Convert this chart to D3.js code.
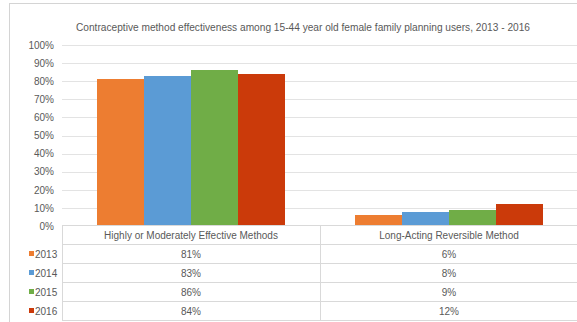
<!DOCTYPE html>
<html>
<head>
<meta charset="utf-8">
<script src="https://cdn.jsdelivr.net/npm/d3@7"></script>
<style>
  html, body { margin: 0; padding: 0; background: #fff; }
  svg { display: block; font-family: "Liberation Sans", Arial, sans-serif; }
</style>
</head>
<body>
<svg id="chart" width="577" height="322"></svg>
<script>
// Data
const title = "Contraceptive method effectiveness among 15-44 year old female family planning users, 2013 - 2016";
const categories = ["Highly or Moderately Effective Methods", "Long-Acting Reversible Method"];
const years = ["2013", "2014", "2015", "2016"];
const colors = ["#ED7D31", "#5B9BD5", "#70AD47", "#CB3A0A"];
const values2013 = [81, 6];
const values2014 = [83, 8];
const values2015 = [86, 9];
const values2016 = [84, 12];
const yTicks = [0, 10, 20, 30, 40, 50, 60, 70, 80, 90, 100];

const series = [values2013, values2014, values2015, values2016];

const svg = d3.select("#chart");
const textColor = "#595959";
const gridColor = "#E3E3E3";
const lineColor = "#D9D9D9";

// Outer chart frame
svg.append("rect")
  .attr("x", 9.5).attr("y", 3.5)
  .attr("width", 600).attr("height", 340)
  .attr("fill", "#fff").attr("stroke", "#D4D4D4");

// Title
svg.append("text")
  .attr("x", 303).attr("y", 31)
  .attr("text-anchor", "middle")
  .attr("font-size", 11)
  .attr("fill", textColor)
  .attr("textLength", 454)
  .attr("lengthAdjust", "spacingAndGlyphs")
  .text(title);

// Scales
const plotLeft = 62, plotRight = 578;
const y = d3.scaleLinear().domain([0, 100]).range([226, 45]);
const x0 = d3.scaleBand().domain(categories).range([plotLeft, plotRight]).padding(0);
const groupWidth = x0.bandwidth() * 0.725;
const x1 = d3.scaleBand().domain(years)
  .range([(x0.bandwidth() - groupWidth) / 2, (x0.bandwidth() + groupWidth) / 2])
  .padding(0);

// Gridlines
svg.append("g")
  .selectAll("line")
  .data(yTicks.filter(t => t > 0))
  .join("line")
  .attr("x1", plotLeft).attr("x2", plotRight)
  .attr("y1", d => Math.round(y(d)) + 0.5)
  .attr("y2", d => Math.round(y(d)) + 0.5)
  .attr("stroke", gridColor);

// Y axis labels
const yAxis = d3.axisLeft(y).tickValues(yTicks).tickFormat(d => d + "%").tickSize(0).tickPadding(0);
const yg = svg.append("g").attr("transform", "translate(54,0)").call(yAxis);
yg.select(".domain").remove();
yg.selectAll("text").attr("font-size", 10).attr("fill", textColor)
  .attr("font-family", "'Liberation Sans', Arial, sans-serif");

// Bars: bars in a group touch, so edges are snapped to whole pixels
const barLeft = (c, yr) => Math.round(x0(c) + x1(yr));
const barRight = (c, yr) => Math.round(x0(c) + x1(yr) + x1.bandwidth());

svg.append("g")
  .selectAll("rect")
  .data(categories.flatMap((c, ci) => years.map((yr, si) => ({ c, yr, si, v: series[si][ci] }))))
  .join("rect")
  .attr("x", d => barLeft(d.c, d.yr))
  .attr("width", d => barRight(d.c, d.yr) - barLeft(d.c, d.yr))
  .attr("y", d => Math.round(y(d.v)))
  .attr("height", d => Math.round(y(0)) - Math.round(y(d.v)))
  .attr("fill", d => colors[d.si]);

// Data table
const rowH = 19;
const tableTop = 225.5;
const rows = years.length + 1;
const tbl = svg.append("g");

// horizontal lines (axis line + row separators)
tbl.selectAll("line.h")
  .data(d3.range(rows + 1))
  .join("line")
  .attr("class", "h")
  .attr("x1", plotLeft).attr("x2", plotRight)
  .attr("y1", i => tableTop + i * rowH)
  .attr("y2", i => tableTop + i * rowH)
  .attr("stroke", lineColor);

// vertical lines
tbl.selectAll("line.v")
  .data([plotLeft, x0(categories[1])])
  .join("line")
  .attr("class", "v")
  .attr("x1", d => Math.round(d) + 0.5).attr("x2", d => Math.round(d) + 0.5)
  .attr("y1", tableTop).attr("y2", tableTop + rows * rowH)
  .attr("stroke", lineColor);

// header: category names
tbl.selectAll("text.cat")
  .data(categories)
  .join("text")
  .attr("class", "cat")
  .attr("x", d => x0(d) + x0.bandwidth() / 2)
  .attr("y", tableTop + rowH / 2 + 3.5)
  .attr("text-anchor", "middle")
  .attr("font-size", 10)
  .attr("fill", textColor)
  .text(d => d);

// value rows
years.forEach((yr, si) => {
  const cy = tableTop + (si + 1) * rowH + rowH / 2;
  tbl.selectAll(`text.val${si}`)
    .data(categories)
    .join("text")
    .attr("class", `val${si}`)
    .attr("x", d => x0(d) + x0.bandwidth() / 2)
    .attr("y", cy + 3.5)
    .attr("text-anchor", "middle")
    .attr("font-size", 10)
    .attr("fill", textColor)
    .text((d, ci) => series[si][ci] + "%");

  // legend key
  tbl.append("rect")
    .attr("x", 29).attr("y", cy - 3)
    .attr("width", 5).attr("height", 5)
    .attr("fill", colors[si]);
  tbl.append("text")
    .attr("x", 35).attr("y", cy + 3.5)
    .attr("font-size", 10)
    .attr("fill", textColor)
    .text(yr);
});
</script>
</body>
</html>
